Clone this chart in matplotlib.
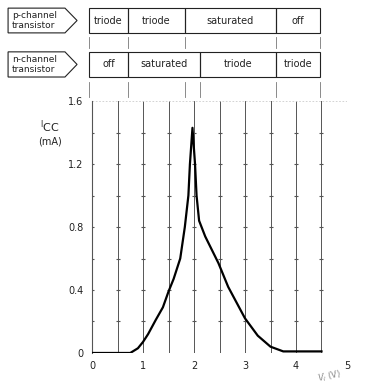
import matplotlib.pyplot as plt
import matplotlib.transforms as mtransforms
from matplotlib.patches import Polygon, Rectangle

# supply current vs input voltage of a CMOS inverter
vi = [0, 0.5, 0.75, 0.9, 1.0, 1.1, 1.25, 1.39, 1.5, 1.6, 1.73, 1.82, 1.89, 1.92, 1.97,
      2.02, 2.05, 2.10, 2.22, 2.48, 2.67, 3.0, 3.25, 3.5, 3.75, 4.0, 4.5]
icc = [0, 0, 0.0, 0.03, 0.07, 0.12, 0.21, 0.29, 0.39, 0.47, 0.6, 0.8, 1.0, 1.2, 1.43,
       1.2, 1.0, 0.84, 0.74, 0.57, 0.42, 0.22, 0.11, 0.04, 0.01, 0.01, 0.01]

# operating regions of each transistor, bounded in V_I
p_edges = [-0.06, 0.7, 1.82, 3.6, 4.47]
p_regions = ['triode', 'triode', 'saturated', 'off']
n_edges = [-0.06, 0.7, 2.12, 3.6, 4.47]
n_regions = ['off', 'saturated', 'triode', 'triode']

x_ticks = [0, 1, 2, 3, 4, 5]
y_ticks = [0, 0.4, 0.8, 1.2, 1.6]
y_tick_labels = ['0', '0.4', '0.8', '1.2', '1.6']

ink = '#222222'
grid_col = '#555555'

fig = plt.figure(figsize=(3.67, 3.87), dpi=100)
ax = fig.add_axes([0.2507, 0.0879, 0.6948, 0.651])
ax.set_xlim(0, 5)
ax.set_ylim(0, 1.6)

for side in ['top', 'right', 'bottom']:
    ax.spines[side].set_visible(False)
ax.spines['left'].set_color(grid_col)
ax.spines['left'].set_linewidth(0.8)

# vertical grid lines with small marks every 0.2 mA
grid_x = [0.5 * i for i in range(1, 10)]
for gx in grid_x:
    ax.plot([gx, gx], [0, 1.6], color=grid_col, lw=0.7, zorder=1)
ax.plot([5, 5], [0, 1.6], color='#aaaaaa', lw=0.6, ls=(0, (3, 3)), zorder=1)
marks_y = [0.2 * j for j in range(1, 8)]
for gx in [0] + grid_x:
    ax.plot([gx] * len(marks_y), marks_y, ls='none', marker='_', ms=2.5,
            mew=0.8, color=grid_col, zorder=1)
ax.plot([0, 5], [1.6, 1.6], color='#cccccc', lw=0.6, ls=(0, (2, 2)), zorder=1)

ax.plot(vi, icc, color='black', lw=1.6, zorder=3)

ax.set_xticks(x_ticks)
ax.set_xticklabels([str(t) for t in x_ticks])
ax.set_yticks(y_ticks)
ax.set_yticklabels(y_tick_labels)
ax.tick_params(axis='both', length=0, labelsize=7, colors=ink, pad=6)

ax.text(-0.82, 1.435, '$\\mathregular{^{I}CC}$', fontsize=8, color=ink,
        ha='center', va='center')
ax.text(-0.82, 1.345, '(mA)', fontsize=7, color=ink, ha='center', va='center')
ax.text(4.65, -0.15, '$V_I$ (V)', fontsize=6, color='#888888', rotation=12,
        ha='center', va='center')

# region bars above the plot
trans = mtransforms.blended_transform_factory(ax.transData, fig.transFigure)


def draw_row(edges, names, top, bottom):
    for k, name in enumerate(names):
        rect = Rectangle((edges[k], bottom), edges[k + 1] - edges[k], top - bottom,
                         transform=trans, fill=False, edgecolor=ink, lw=0.8,
                         clip_on=False)
        ax.add_patch(rect)
        ax.text((edges[k] + edges[k + 1]) / 2, (top + bottom) / 2, name,
                transform=trans, ha='center', va='center', fontsize=7, color=ink)


draw_row(p_edges, p_regions, 0.979, 0.915)
draw_row(n_edges, n_regions, 0.866, 0.801)

for ex in p_edges:
    ax.plot([ex, ex], [0.904, 0.876], transform=trans, color='#777777', lw=0.6,
            clip_on=False)
for ex in sorted(set(p_edges + n_edges)):
    ax.plot([ex, ex], [0.788, 0.749], transform=trans, color='#777777', lw=0.6,
            clip_on=False)


def draw_tag(text, top, bottom):
    mid = (top + bottom) / 2
    pts = [(0.022, top), (0.177, top), (0.21, mid), (0.177, bottom), (0.022, bottom)]
    fig.patches.append(Polygon(pts, closed=True, fill=False, edgecolor=ink, lw=0.8,
                               transform=fig.transFigure))
    fig.text(0.032, mid, text, ha='left', va='center', fontsize=6.5, color=ink,
             linespacing=1.1)


draw_tag('p-channel\ntransistor', 0.979, 0.915)
draw_tag('n-channel\ntransistor', 0.866, 0.801)

fig.savefig('out.png', dpi=100)
